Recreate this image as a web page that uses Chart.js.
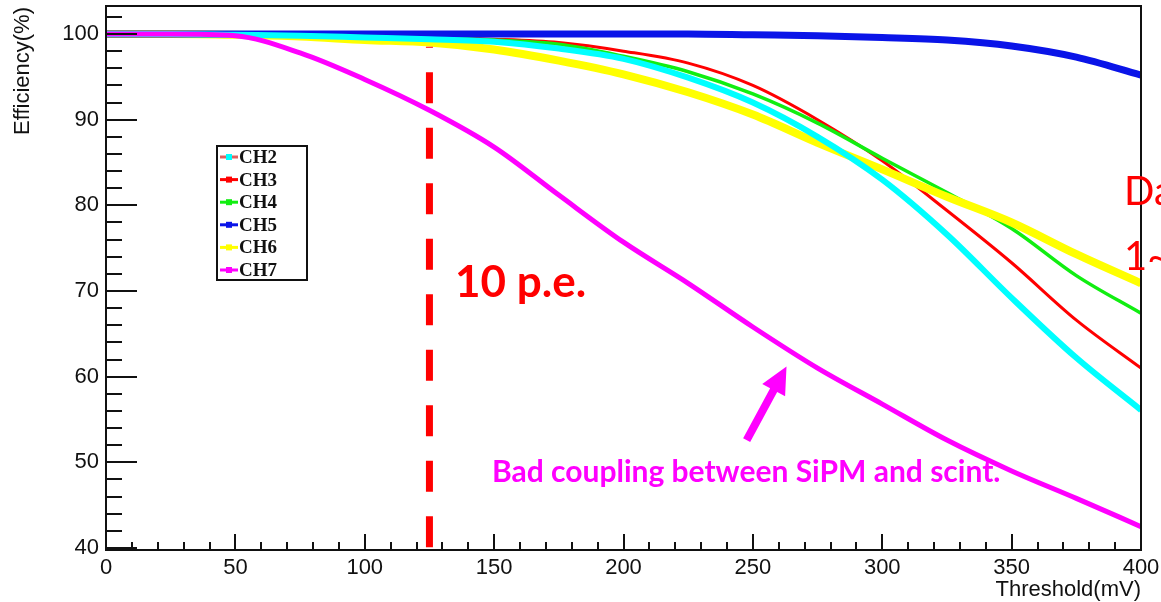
<!DOCTYPE html>
<html>
<head>
<meta charset="utf-8">
<script src="https://cdn.jsdelivr.net/npm/chart.js@4.4.1/dist/chart.umd.min.js"></script>
<style>html,body{margin:0;padding:0;background:#fff}canvas{display:block}</style>
</head>
<body>
<canvas id="c" width="1161" height="602"></canvas>
<script>
/* Efficacité vs seuil — CH2..CH7 */
var THRESHOLD = [0, 25, 50, 75, 100, 125, 150, 175, 200, 225, 250, 275, 300, 325, 350, 375, 400];
var CH2 = [100, 100, 99.9, 99.8, 99.6, 99.4, 99.1, 98.3, 97.1, 94.9, 92.0, 88.0, 83.0, 76.6, 69.2, 62.2, 56.1];
var CH3 = [100, 100, 100, 99.9, 99.8, 99.6, 99.4, 99.0, 98.0, 96.6, 94.0, 90.0, 85.2, 79.4, 73.3, 66.6, 61.0];
var CH4 = [100, 100, 100, 99.9, 99.8, 99.6, 99.3, 98.8, 97.4, 95.6, 93.0, 89.6, 85.5, 81.5, 77.3, 71.8, 67.4];
var CH5 = [100, 100, 100, 100, 100, 100, 100, 100, 100, 100, 99.9, 99.8, 99.6, 99.3, 98.6, 97.3, 95.2];
var CH6 = [100, 100, 99.9, 99.7, 99.3, 99.0, 98.2, 96.9, 95.3, 93.2, 90.6, 87.3, 84.2, 81.0, 78.0, 74.3, 70.9];
var CH7 = [100, 100, 99.8, 97.8, 94.7, 91.1, 86.8, 81.2, 75.7, 70.9, 65.8, 61.0, 56.8, 52.6, 49.0, 45.8, 42.5];
var CHANNELS = ["CH2", "CH3", "CH4", "CH5", "CH6", "CH7"];
var X_TICKS = [0, 50, 100, 150, 200, 250, 300, 350, 400];
var Y_TICKS = [40, 50, 60, 70, 80, 90, 100];
var CUT_MV = 125, CUT_TOP = 98.5;       // seuil 10 p.e.
var ARROW = [[247.6, 52.6], [263, 61.2]]; // flèche "bad coupling"

var COUL = ["#00ffff", "#ff0000", "#11ee11", "#0a14e8", "#ffff00", "#ff00ff"];
var LARG = [6, 3, 3.5, 7, 8, 5];
var ORDRE = [2, 6, 5, 3, 4, 1];
var LEG_LIGNE = ["#e06060", "#ff0000", "#11ee11", "#0a14e8", "#ffff00", "#ff00ff"];
var SERIES = [CH2, CH3, CH4, CH5, CH6, CH7];
var SANS = "'Liberation Sans', Arial, sans-serif";

function pts(ys) { return THRESHOLD.map(function (x, i) { return { x: x, y: ys[i] }; }); }

var datasets = SERIES.map(function (s, i) {
  return { label: CHANNELS[i], data: pts(s), borderColor: COUL[i], borderWidth: LARG[i], pointRadius: 0,
    cubicInterpolationMode: "monotone", order: ORDRE[i] };
});
datasets.push({ label: "10 p.e.", data: [{ x: CUT_MV, y: CUT_TOP }, { x: CUT_MV, y: 39.77 }],
  borderColor: "#ff0000", borderWidth: 7, borderDash: [31, 24.5], borderDashOffset: 30, pointRadius: 0, order: 0 });

var decor = {
  id: "decor",
  afterDatasetsDraw: function (chart) {
    var ctx = chart.ctx, a = chart.chartArea, xs = chart.scales.x, ys = chart.scales.y, v, p, L;
    ctx.save();
    ctx.strokeStyle = "#111"; ctx.lineWidth = 2;
    ctx.strokeRect(a.left, a.top, a.right - a.left, a.bottom - a.top);
    ctx.beginPath();
    for (v = 0; v <= 400; v += 10) {
      p = Math.round(xs.getPixelForValue(v)); L = v % 50 === 0 ? 16 : 8;
      ctx.moveTo(p, a.bottom); ctx.lineTo(p, a.bottom - L);
    }
    for (v = 40; v <= 102; v += 2) {
      p = Math.round(ys.getPixelForValue(v)); L = v % 10 === 0 ? 31 : 16;
      ctx.moveTo(a.left, p); ctx.lineTo(a.left + L, p);
    }
    ctx.stroke();

    // titres d'axes
    ctx.fillStyle = "#111"; ctx.font = "22px " + SANS;
    ctx.textAlign = "right"; ctx.textBaseline = "alphabetic";
    ctx.fillText("Threshold(mV)", a.right, 596);
    ctx.save(); ctx.translate(29, 7); ctx.rotate(-Math.PI / 2);
    ctx.fillText("Efficiency(%)", 0, 0); ctx.restore();

    // légende
    ctx.fillStyle = "#fff"; ctx.fillRect(217, 146, 90, 134);
    ctx.strokeStyle = "#111"; ctx.lineWidth = 2; ctx.strokeRect(217, 146, 90, 134);
    ctx.textAlign = "left"; ctx.textBaseline = "middle";
    ctx.font = "bold 19px 'Liberation Serif', 'Times New Roman', serif";
    CHANNELS.forEach(function (n, i) {
      var y = 157 + i * 22.6;
      ctx.strokeStyle = LEG_LIGNE[i]; ctx.lineWidth = 3;
      ctx.beginPath(); ctx.moveTo(220, y); ctx.lineTo(238, y); ctx.stroke();
      ctx.fillStyle = COUL[i]; ctx.fillRect(226, y - 3, 6, 6);
      ctx.fillStyle = "#111"; ctx.fillText(n, 239, y + 1);
    });

    // annotations
    ctx.textBaseline = "alphabetic";
    ctx.fillStyle = "#ff0000"; ctx.font = "bold 44px Lato, sans-serif";
    ctx.fillText("10 p.e.", 455, 297);
    ctx.font = "40px Lato, sans-serif";
    ctx.fillText("Da", 1124, 205);
    ctx.fillText("1~", 1124, 270);
    ctx.fillStyle = "#ff00ff"; ctx.font = "bold 30px Lato, sans-serif";
    ctx.fillText("Bad coupling between SiPM and scint.", 492, 482);

    // flèche
    var x0 = xs.getPixelForValue(ARROW[0][0]), y0 = ys.getPixelForValue(ARROW[0][1]);
    var x1 = xs.getPixelForValue(ARROW[1][0]), y1 = ys.getPixelForValue(ARROW[1][1]);
    var dx = x1 - x0, dy = y1 - y0, len = Math.sqrt(dx * dx + dy * dy), ux = dx / len, uy = dy / len;
    var nx = -uy, ny = ux, hl = 27, hw = 13, sw = 4;
    var bx = x1 - ux * hl, by = y1 - uy * hl;
    ctx.fillStyle = "#ff00ff"; ctx.beginPath();
    ctx.moveTo(x0 + nx * sw, y0 + ny * sw); ctx.lineTo(bx + nx * sw, by + ny * sw);
    ctx.lineTo(bx + nx * hw, by + ny * hw); ctx.lineTo(x1, y1);
    ctx.lineTo(bx - nx * hw, by - ny * hw); ctx.lineTo(bx - nx * sw, by - ny * sw);
    ctx.lineTo(x0 - nx * sw, y0 - ny * sw); ctx.closePath(); ctx.fill();
    ctx.restore();
  }
};

new Chart(document.getElementById("c"), {
  type: "line",
  data: { datasets: datasets },
  plugins: [decor],
  options: {
    responsive: false, animation: false, devicePixelRatio: 1,
    layout: { padding: { top: 6, right: 20, left: 0, bottom: 0 } },
    plugins: { legend: { display: false }, tooltip: { enabled: false } },
    scales: {
      x: {
        type: "linear", min: 0, max: 400,
        afterBuildTicks: function (s) { s.ticks = X_TICKS.map(function (v) { return { value: v }; }); },
        afterFit: function (s) { s.height = 52; s.paddingLeft = 0; s.paddingRight = 0; },
        grid: { display: false, drawTicks: false }, border: { display: false },
        ticks: { padding: 5, maxRotation: 0, autoSkip: false, color: "#111", font: { family: SANS, size: 22 } }
      },
      y: {
        type: "linear", min: 39.77, max: 103.27,
        afterBuildTicks: function (s) { s.ticks = Y_TICKS.map(function (v) { return { value: v }; }); },
        afterFit: function (s) { s.width = 106; s.paddingTop = 0; s.paddingBottom = 0; },
        grid: { display: false, drawTicks: false }, border: { display: false },
        ticks: { padding: 7, color: "#111", font: { family: SANS, size: 22 } }
      }
    }
  }
});
</script>
</body>
</html>
